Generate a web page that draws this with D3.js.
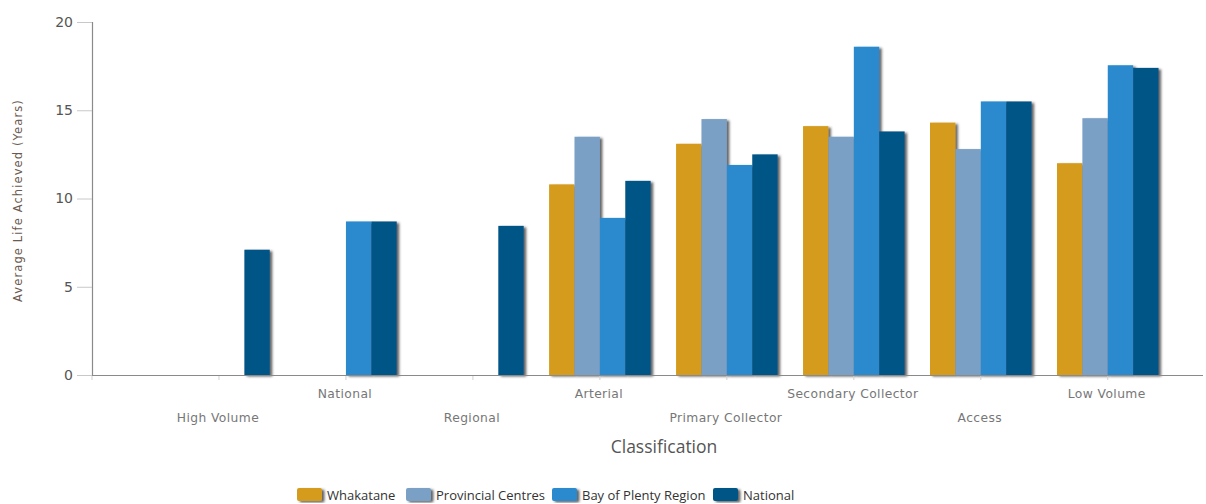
<!DOCTYPE html>
<html>
<head>
<meta charset="utf-8">
<script src="https://cdn.jsdelivr.net/npm/d3@7/dist/d3.min.js"></script>
<style>
  html, body { margin: 0; padding: 0; background: #fff; }
  svg { display: block; }
</style>
</head>
<body>
<div id="chart"></div>
<script>
// Road classifications along the x axis
const categories = ["High Volume", "National", "Regional", "Arterial",
  "Primary Collector", "Secondary Collector", "Access", "Low Volume"];

// Average life achieved (years) per series; null where no data
const whakatane      = [null, null, null, 10.8, 13.1, 14.1, 14.3, 12.0];
const provincial     = [null, null, null, 13.5, 14.5, 13.5, 12.8, 14.55];
const bayOfPlenty    = [null, 8.7,  null, 8.9,  11.9, 18.6, 15.5, 17.55];
const national       = [7.1,  8.7,  8.45, 11.0, 12.5, 13.8, 15.5, 17.4];

const seriesNames = ["Whakatane", "Provincial Centres", "Bay of Plenty Region", "National"];
const seriesColors = ["#D59B1A", "#7AA0C6", "#2A8ACD", "#025487"];
const yTicks = [0, 5, 10, 15, 20];

const series = [whakatane, provincial, bayOfPlenty, national].map((vals, i) => ({
  name: seriesNames[i], color: seriesColors[i], values: vals
}));

const W = 1206, H = 504;
const svg = d3.select("#chart").append("svg").attr("width", W).attr("height", H);

const defs = svg.append("defs");
const f = defs.append("filter").attr("id", "shadow")
  .attr("x", "-20%").attr("y", "-5%").attr("width", "150%").attr("height", "115%");
f.append("feDropShadow").attr("dx", 2.5).attr("dy", 1.5).attr("stdDeviation", 0.9)
  .attr("flood-color", "#333").attr("flood-opacity", 0.75);

const plotLeft = 92, plotRight = 1203, plotTop = 22, plotBottom = 375;

const y = d3.scaleLinear().domain([0, 20]).range([plotBottom, plotTop]);

// Category centres sit on a linear index scale; the axis starts one step before the first group
const xi = d3.scaleLinear().domain([-1, 7.75]).range([plotLeft, plotRight]);
const step = xi(1) - xi(0);
const barW = step * 0.2;

// Y axis
const yAxis = svg.append("g").attr("transform", `translate(${plotLeft},0)`)
  .call(d3.axisLeft(y).tickValues(yTicks).tickSize(15).tickPadding(4));
yAxis.select(".domain").attr("stroke", "#8a8a8a").attr("stroke-width", 1.2);
yAxis.selectAll(".tick line").attr("stroke", "#c8c8c8");
yAxis.selectAll(".tick text").attr("fill", "#555").attr("font-size", 14)
  .attr("font-family", "DejaVu Sans, sans-serif");

svg.append("text")
  .attr("transform", `translate(22,${(plotTop + plotBottom) / 2 + 2}) rotate(-90)`)
  .attr("text-anchor", "middle")
  .attr("font-family", "DejaVu Sans, sans-serif").attr("font-size", 11.5)
  .attr("letter-spacing", 1.1)
  .attr("fill", "#6b5a50")
  .text("Average Life Achieved (Years)");

// Bars: each series drawn in order so later bars overlap earlier shadows
const gBars = svg.append("g");
categories.forEach((c, ci) => {
  series.forEach((s, si) => {
    const v = s.values[ci];
    if (v == null) return;
    const x0 = xi(ci) + (si - 2) * barW;
    gBars.append("rect")
      .attr("x", x0).attr("y", y(v))
      .attr("width", barW).attr("height", y(0) - y(v))
      .attr("fill", s.color)
      .attr("filter", "url(#shadow)");
  });
});

// X axis line and ticks
svg.append("line").attr("x1", plotLeft).attr("x2", plotRight)
  .attr("y1", plotBottom + 0.5).attr("y2", plotBottom + 0.5)
  .attr("stroke", "#8a8a8a").attr("stroke-width", 1.2);
const xTickPositions = [-1].concat(d3.range(categories.length));
svg.append("g").selectAll("line").data(xTickPositions).join("line")
  .attr("x1", d => xi(d)).attr("x2", d => xi(d))
  .attr("y1", plotBottom + 1).attr("y2", plotBottom + 5)
  .attr("stroke", "#d0d0d0");

// Staggered category labels
svg.append("g").selectAll("text").data(categories).join("text")
  .attr("x", (d, i) => xi(i) - 1)
  .attr("y", (d, i) => i % 2 === 0 ? 421.5 : 398)
  .attr("text-anchor", "middle")
  .attr("font-family", "DejaVu Sans, sans-serif").attr("font-size", 12.3)
  .attr("letter-spacing", 0.4)
  .attr("fill", "#777")
  .text(d => d);

svg.append("text").attr("x", 664).attr("y", 453).attr("text-anchor", "middle")
  .attr("font-family", "Open Sans, sans-serif").attr("font-size", 17.5)
  .attr("fill", "#555").text("Classification");

// Legend
const legendX = [297, 406, 552, 713];
const lg = svg.append("g");
series.forEach((s, i) => {
  const g = lg.append("g").attr("transform", `translate(${legendX[i]},488)`);
  g.append("rect").attr("width", 25).attr("height", 13).attr("rx", 2)
    .attr("fill", s.color).attr("filter", "url(#shadow)");
  g.append("text").attr("x", 30).attr("y", 11.5)
    .attr("font-family", "Open Sans, sans-serif").attr("font-size", 13)
    .attr("fill", "#333").text(s.name);
});
</script>
</body>
</html>
